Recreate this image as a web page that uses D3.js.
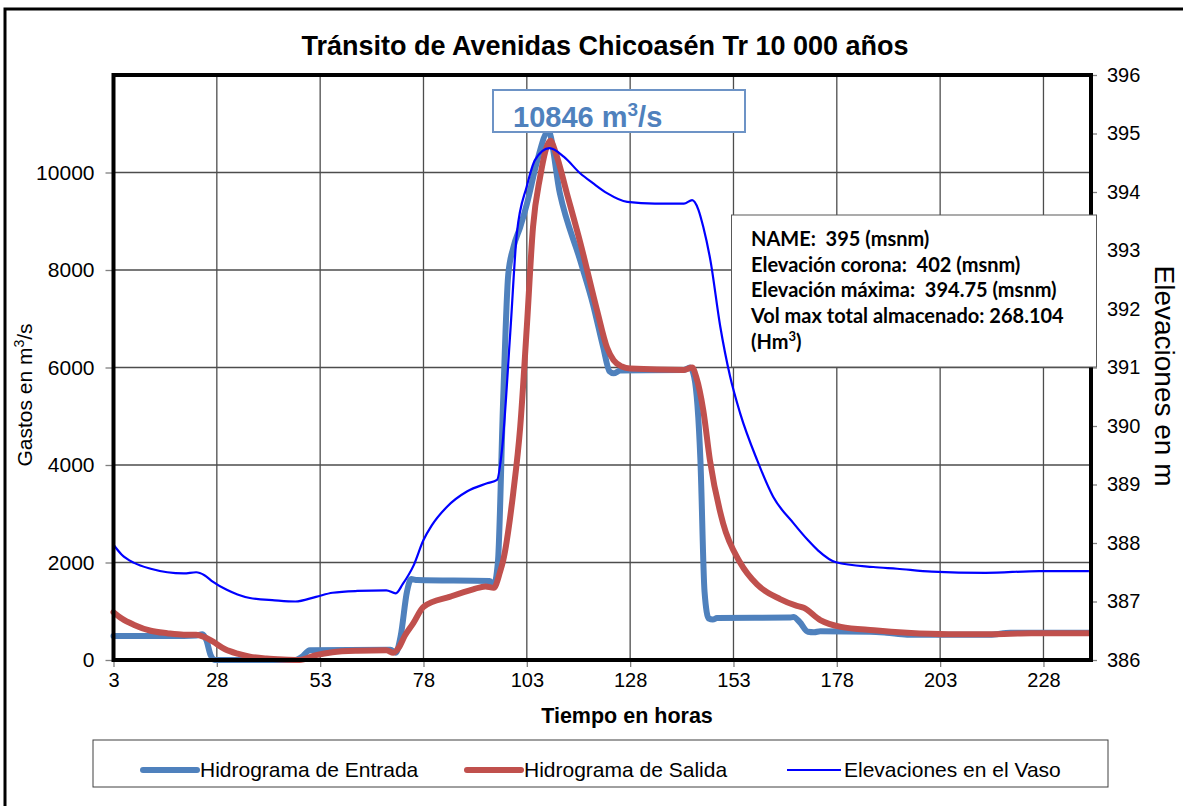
<!DOCTYPE html>
<html>
<head>
<meta charset="utf-8">
<script src="https://cdn.jsdelivr.net/npm/d3@7"></script>
<style>
  body { margin: 0; background: #fff; }
  svg text { font-family: "Liberation Sans", Arial, sans-serif; }
  .grid { stroke: #4d4d4d; stroke-width: 1.3; }
  .axis text { font-size: 20px; fill: #000; }
  .axis line { stroke: #808080; stroke-width: 1.3; }
  .info { font-family: Lato, "Open Sans", sans-serif; font-weight: bold; font-size: 20px; white-space: pre; }
</style>
</head>
<body>
<script>
// ============================================================
// Tránsito de Avenidas Chicoasén Tr 10 000 años
// Inflow / outflow hydrographs (left axis) + reservoir level (right axis)
// ============================================================

// Hidrograma de Entrada (t [h], Q [m3/s])
var horasEntrada = [3, 20, 23, 24.5, 25.5, 26.5, 27.5, 47, 48.5, 50.5, 70, 71.3, 72.5, 74, 75, 76.5,
    94, 95, 96, 97.3, 98.5, 99.7, 101.4, 103, 105.4, 108.2, 111, 115.9, 119, 121.5, 123, 124, 125.6,
    141, 142.5, 143.5, 145, 146, 147, 148, 149, 166.5, 167.5, 169, 171, 172.5, 174, 186, 190, 195,
    215, 220, 239];
var gastoEntrada = [490, 490, 500, 530, 400, 100, 0, 0, 60, 200, 210, 150, 500, 1400, 1660, 1640,
    1620, 1540, 2000, 5400, 7900, 8450, 8880, 9350, 10200, 10846, 9570, 8200, 7300, 6410, 5920, 5880, 5940,
    5950, 6000, 5800, 4100, 1400, 850, 830, 860, 870, 880, 780, 580, 570, 590, 580, 560, 520,
    520, 560, 560];

// Hidrograma de Salida
var horasSalida = [3, 5, 8, 12, 16, 20, 23, 25, 27, 30, 33, 36, 40, 44, 48, 52, 56, 62, 69, 70.7,
    72, 73.5, 75.5, 78, 84.5, 90, 93, 95, 96.5, 97.3, 99.7, 101.4, 103, 104.5, 106.2, 108.7, 110,
    112.7, 116, 120, 122.4, 124, 126, 128, 141, 143, 144, 145.7, 147.3, 150.5, 154.6, 158.7, 164.3,
    168, 170, 174, 179, 187, 195, 205, 215, 225, 239];
var gastoSalida = [980, 850, 720, 600, 550, 520, 520, 470, 380, 220, 130, 70, 30, 10, 0, 100, 160, 190, 200, 150,
    250, 500, 750, 1090, 1300, 1450, 1510, 1480, 1800, 2050, 3420, 4780, 6830, 8880, 9900, 10650, 10400,
    9570, 8540, 7170, 6410, 6150, 6020, 5980, 5950, 6000, 5800, 5120, 4100, 2800, 2000, 1550, 1250,
    1120, 1070, 820, 680, 610, 560, 530, 530, 550, 550];

// Elevaciones en el Vaso (msnm)
var horasVaso = [3, 5, 8, 12, 16, 20, 23, 25, 27, 30.4, 33, 36, 42, 47, 52, 56, 62, 69, 71.3, 73,
    75.5, 78, 80, 83.7, 88.5, 93.4, 95.8, 97, 99, 100.6, 103, 105, 108.5, 112, 115.9, 119, 122.4, 127.3,
    134, 141, 143, 144.5, 145.7, 147.4, 149.8, 152.2, 154.6, 158.7, 162.6, 167.5, 171, 173.5, 177.8,
    186.8, 192.6, 201, 214, 227, 239];
var elevVaso = [387.97, 387.8, 387.66, 387.56, 387.5, 387.48, 387.5, 387.45, 387.34, 387.2, 387.12, 387.06, 387.02, 387.0, 387.08, 387.15, 387.18, 387.19, 387.14, 387.3,
    387.6, 388.05, 388.3, 388.62, 388.88, 389.02, 389.08, 389.6, 391.6, 393.3, 394.1, 394.55, 394.75, 394.6, 394.32, 394.15, 393.98, 393.83,
    393.8, 393.8, 393.86, 393.7, 393.4, 392.84, 391.7, 390.84, 390.22, 389.42, 388.79, 388.34, 388.05, 387.87, 387.67,
    387.59, 387.56, 387.51, 387.49, 387.52, 387.52];

var xTicks = [3, 28, 53, 78, 103, 128, 153, 178, 203, 228];
var yTicksGasto = [0, 2000, 4000, 6000, 8000, 10000];
var yTicksElev = [386, 387, 388, 389, 390, 391, 392, 393, 394, 395, 396];

var seriesNames = ["Hidrograma de Entrada", "Hidrograma de Salida", "Elevaciones en el Vaso"];
var infoLines = ["NAME:  395 (msnm)", "Elevación corona:  402 (msnm)", "Elevación máxima:  394.75 (msnm)",
    "Vol max total almacenado: 268.104"];

var w = 1183, h = 806;
var plotL = 113.5, plotR = 1091, plotT = 75, plotB = 660;

var svg = d3.select("body").append("svg")
    .attr("width", w)
    .attr("height", h);

// Outer frame (left + top edges only are visible)
svg.append("path")
    .attr("d", "M5,806 L5,9 L1183,9")
    .attr("fill", "none")
    .attr("stroke", "#000")
    .attr("stroke-width", 3);

var x = d3.scaleLinear().domain([3, 239.5]).range([plotL, plotR]);
var yQ = d3.scaleLinear().domain([0, 12000]).range([plotB, plotT]);
var yE = d3.scaleLinear().domain([386, 396]).range([plotB, plotT]);

// Gridlines
xTicks.slice(1).forEach(function(t) {
    svg.append("line").attr("class", "grid")
        .attr("x1", x(t)).attr("x2", x(t))
        .attr("y1", plotT).attr("y2", plotB);
});
yTicksGasto.slice(1).forEach(function(v) {
    svg.append("line").attr("class", "grid")
        .attr("x1", plotL).attr("x2", plotR)
        .attr("y1", yQ(v)).attr("y2", yQ(v));
});

// Axes
var axB = svg.append("g").attr("class", "axis")
    .attr("transform", "translate(0," + plotB + ")")
    .call(d3.axisBottom(x).tickValues(xTicks).tickSize(7).tickPadding(6));
var axL = svg.append("g").attr("class", "axis")
    .attr("transform", "translate(" + plotL + ",0)")
    .call(d3.axisLeft(yQ).tickValues(yTicksGasto).tickFormat(d3.format("d")).tickSize(8).tickPadding(11));
var axR = svg.append("g").attr("class", "axis")
    .attr("transform", "translate(" + plotR + ",0)")
    .call(d3.axisRight(yE).tickValues(yTicksElev).tickSize(6).tickPadding(10));
[axB, axL, axR].forEach(function(a) {
    a.select(".domain").remove();
    a.selectAll("text").attr("font-family", null);
});
axL.selectAll("text").style("font-size", "21px");

// Series
var lineQ = function(xs, ys) {
    return d3.line().curve(d3.curveMonotoneX)
        .x(function(d, i) { return x(xs[i]); })
        .y(function(d, i) { return yQ(ys[i]); })(ys);
};
var lineE = d3.line().curve(d3.curveMonotoneX)
    .x(function(d, i) { return x(horasVaso[i]); })
    .y(function(d) { return yE(d); });

svg.append("path")
    .attr("d", lineQ(horasEntrada, gastoEntrada))
    .attr("fill", "none").attr("stroke", "#4F81BD")
    .attr("stroke-width", 6).attr("stroke-linejoin", "round").attr("stroke-linecap", "round");
svg.append("path")
    .attr("d", lineQ(horasSalida, gastoSalida))
    .attr("fill", "none").attr("stroke", "#C0504D")
    .attr("stroke-width", 6).attr("stroke-linejoin", "round").attr("stroke-linecap", "round");
svg.append("path")
    .attr("d", lineE(elevVaso))
    .attr("fill", "none").attr("stroke", "#0000FF")
    .attr("stroke-width", 2.2);

// Plot frame
svg.append("rect")
    .attr("x", plotL).attr("y", plotT)
    .attr("width", plotR - plotL).attr("height", plotB - plotT)
    .attr("fill", "none").attr("stroke", "#000").attr("stroke-width", 4);

// Title and axis titles
svg.append("text")
    .attr("x", 605).attr("y", 55)
    .attr("text-anchor", "middle")
    .attr("font-size", 27).attr("font-weight", "bold")
    .text("Tránsito de Avenidas Chicoasén Tr 10 000 años");

svg.append("text")
    .attr("x", 627).attr("y", 723)
    .attr("text-anchor", "middle")
    .attr("font-size", 21.5).attr("font-weight", "bold")
    .text("Tiempo en horas");

var yt = svg.append("text")
    .attr("transform", "translate(32,395) rotate(-90)")
    .attr("text-anchor", "middle")
    .attr("font-size", 21);
yt.append("tspan").text("Gastos en m");
yt.append("tspan").attr("font-size", 14).attr("dy", -8).text("3");
yt.append("tspan").attr("dy", 8).text("/s");

svg.append("text")
    .attr("transform", "translate(1155,376) rotate(90)")
    .attr("text-anchor", "middle")
    .attr("font-size", 28)
    .text("Elevaciones en m");

// Peak annotation
var peakIdx = d3.maxIndex(gastoEntrada);
svg.append("rect")
    .attr("x", 493).attr("y", 90).attr("width", 252).attr("height", 42)
    .attr("fill", "#fff").attr("stroke", "#6D93C6").attr("stroke-width", 2);
var pk = svg.append("text")
    .attr("x", 513).attr("y", 127)
    .attr("font-size", 29).attr("font-weight", "bold")
    .attr("fill", "#4F81BD");
pk.append("tspan").text(gastoEntrada[peakIdx] + " m");
pk.append("tspan").attr("font-size", 19).attr("dy", -11).text("3");
pk.append("tspan").attr("dy", 11).text("/s");

// Info box
svg.append("rect")
    .attr("x", 731.5).attr("y", 215).attr("width", 365).attr("height", 152)
    .attr("fill", "#fff").attr("stroke", "#595959").attr("stroke-width", 1);
infoLines.forEach(function(s, i) {
    svg.append("text").attr("class", "info")
        .attr("x", 751).attr("y", 246 + i * 25.7)
        .text(s);
});
var hm = svg.append("text").attr("class", "info")
    .attr("x", 751).attr("y", 246 + 4 * 25.7);
hm.append("tspan").text("(Hm");
hm.append("tspan").attr("font-size", 13).attr("dy", -8).text("3");
hm.append("tspan").attr("dy", 8).text(")");

// Legend
svg.append("rect")
    .attr("x", 93).attr("y", 740).attr("width", 1015).attr("height", 47)
    .attr("fill", "#fff").attr("stroke", "#404040").attr("stroke-width", 1);
var legendX = [143, 467, 787];
var legendColor = ["#4F81BD", "#C0504D", "#0000FF"];
var legendWidth = [6, 6, 2.2];
seriesNames.forEach(function(name, i) {
    svg.append("line")
        .attr("x1", legendX[i]).attr("x2", legendX[i] + 54)
        .attr("y1", 770).attr("y2", 770)
        .attr("stroke", legendColor[i]).attr("stroke-width", legendWidth[i])
        .attr("stroke-linecap", i < 2 ? "round" : "butt");
    svg.append("text")
        .attr("x", legendX[i] + 57).attr("y", 777)
        .attr("font-size", 21)
        .text(name);
});
</script>
</body>
</html>
